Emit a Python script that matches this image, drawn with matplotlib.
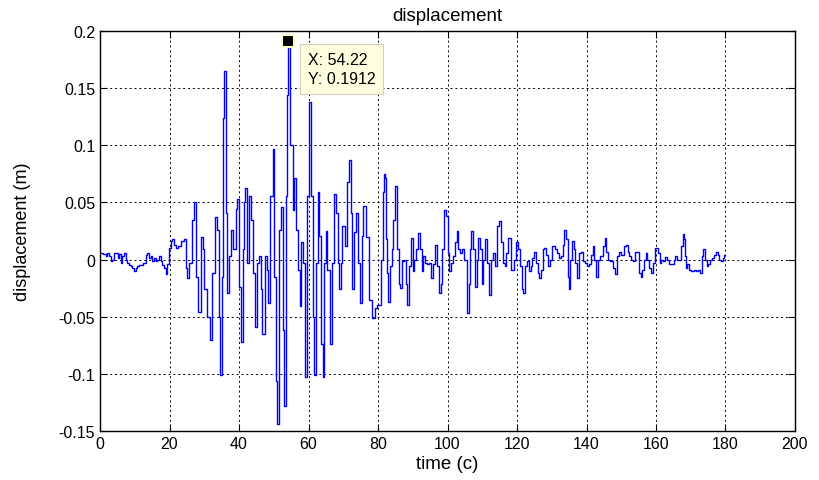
import matplotlib
matplotlib.use('Agg')
import matplotlib.pyplot as plt
import numpy as np

plt.rcParams['font.family'] = ['Liberation Sans', 'DejaVu Sans']

# time (s) and displacement (m)
t = [0.4, 1.4, 1.9, 2.3, 2.8, 3.3, 3.8, 4.4, 4.9, 5.2, 5.7, 6.1, 6.6, 7.1, 7.6, 8.1,
     8.6, 9.0, 9.5, 10.0, 10.5, 11.0, 11.4, 11.9, 12.6, 13.1, 13.5, 13.8, 14.3, 14.8,
     15.3, 15.8, 16.3, 16.7, 17.2, 17.7, 18.1, 18.6, 19.1, 19.6, 20.1, 20.5, 21.0,
     21.5, 22.0, 22.9, 23.9, 24.5, 24.8, 25.1,
     25.9, 26.9, 27.3, 27.8, 28.6, 29.3, 29.7, 30.2, 31.2, 32.1, 32.6, 33.4, 33.9,
     34.3, 34.7, 35.3, 35.5, 35.9, 36.4, 36.9, 37.4, 37.9, 38.4, 38.8, 39.3, 39.8,
     40.3, 40.8, 41.2, 41.7, 42.0, 42.7, 43.2, 43.6, 44.3, 44.9, 45.6, 46.0, 46.5,
     47.0, 47.8, 48.1, 48.7,
     49.4, 49.9, 50.4, 50.8, 51.3, 51.8, 52.3, 52.8, 53.2, 53.7, 54.0, 54.22, 55.2,
     55.6, 56.1, 56.6, 57.4, 57.7, 58.2, 58.5, 59.2, 60.0, 60.4, 60.9, 61.4, 61.9,
     62.4, 62.8, 63.3, 63.8, 64.3, 64.8, 65.2, 65.7, 66.4, 67.0, 67.6, 68.1, 68.6,
     69.1, 69.5, 70.0, 70.8, 71.4, 71.9, 72.4, 72.9, 73.4, 74.0, 74.6, 75.0, 75.6,
     75.9, 77.0, 78.0, 78.8, 79.3, 80.4,
     81.1, 81.5, 81.8, 82.3, 82.5, 82.8, 83.2, 83.6, 84.2, 84.6, 85.2, 85.7, 86.1,
     86.6, 87.3, 87.8, 88.2, 88.7, 89.2, 89.7, 90.2, 90.6, 91.4, 91.8, 92.3, 92.8,
     93.3, 93.8, 94.5, 95.0, 95.4, 96.1, 96.7, 97.4, 97.8, 98.3, 98.8, 99.3, 99.8,
     100.2, 100.7, 101.2, 101.9, 102.4, 102.9, 103.4, 104.0, 104.5, 105.2, 105.8,
     106.3, 106.7, 107.1, 107.6, 108.1, 108.6, 109.2, 109.6, 110.1, 110.6, 111.1,
     111.7, 112.2, 112.7, 113.2, 113.9, 114.6, 115.1, 115.8, 116.3, 116.7, 117.2,
     117.8,
     118.9, 119.4, 120.1, 120.7, 121.1, 121.6, 122.0, 122.6, 123.3, 123.7, 124.2,
     124.7, 125.2, 125.7, 126.1, 126.6, 127.2, 127.6, 128.2, 128.7, 129.3, 129.9,
     130.5, 131.1, 131.9, 132.4, 132.9, 133.3, 133.8, 134.3, 134.8, 135.1, 135.6,
     136.1, 136.5, 137.0, 137.5, 138.1, 138.6, 139.1, 139.9, 140.3, 141.0, 141.5,
     142.0, 142.4, 143.1, 143.7, 144.3, 145.0, 145.5, 146.0, 146.6, 147.2, 147.9,
     148.5, 149.2, 149.6, 150.4, 151.1, 151.6, 152.0, 152.5, 153.0, 153.7, 154.2,
     154.9, 155.4, 155.9, 156.3, 156.8, 157.3, 157.8, 158.3, 159.0, 159.5, 160.2,
     160.9, 161.3, 161.8, 162.3, 162.9, 163.4, 164.0, 164.8, 165.3, 165.7, 166.2,
     166.9, 167.4, 167.9, 168.2, 168.5, 168.8, 169.3, 169.8, 170.6, 171.2, 171.7,
     172.5, 172.9, 173.4, 173.9, 174.4, 174.9, 175.3, 175.8, 176.3, 177.0, 177.5,
     178.0, 178.4, 178.9, 179.4, 179.9]

disp = [0.006, 0.0045, 0.003, 0.006, 0.003, -0.001, 0.0, 0.006, 0.006, 0.0015,
        0.0045, -0.003, 0.003, 0.006, 0.0, -0.003, -0.0045, -0.006, -0.007, -0.010,
        -0.007, -0.006, -0.005, -0.0045, -0.003, -0.003, 0.004, 0.006, 0.0015, 0.003,
        -0.0015, 0.001, -0.0015, 0.0, 0.003, -0.0015, -0.0045, -0.007, -0.013, -0.004,
        0.010, 0.016, 0.018, 0.013, 0.010, 0.012, 0.016, 0.018, -0.007, -0.016,
        -0.003, 0.035, 0.050, -0.015, -0.046, 0.020, 0.009, -0.026, -0.050, -0.070,
        -0.012, 0.037, 0.026, -0.050, -0.101, -0.015, 0.124, 0.165, 0.041, -0.029,
        0.003, 0.026, 0.009, 0.009, 0.044, 0.053, -0.024, -0.072, 0.009, 0.050, 0.063,
        -0.003, 0.056, 0.035, -0.012, -0.059, -0.003, 0.003, -0.026, -0.065, 0.003,
        -0.009, -0.038,
        0.056, 0.097, -0.015, -0.106, -0.144, 0.026, 0.046, -0.062, -0.128, 0.056,
        0.144, 0.1912, 0.100, 0.043, 0.071, 0.026, -0.009, -0.041, 0.015, -0.003,
        -0.103, 0.056, 0.138, 0.056, -0.050, -0.101, -0.003, 0.059, 0.021, -0.074,
        -0.103, -0.003, 0.025, -0.009, -0.074, -0.003, 0.057, 0.041, -0.003, -0.026,
        -0.003, 0.029, 0.012, 0.068, 0.087, 0.041, -0.026, 0.024, 0.041, -0.003,
        -0.038, 0.021, 0.047, 0.020, -0.035, -0.051, -0.042, -0.040,
        0.0, 0.059, 0.075, 0.071, 0.018, -0.012, -0.037, -0.006, 0.009, 0.035, 0.064,
        0.009, -0.021, -0.025, -0.001, 0.0, -0.021, -0.040, -0.006, 0.019, -0.010,
        0.0, 0.009, 0.023, 0.009, -0.010, 0.003, -0.003, -0.004, -0.003, -0.016,
        -0.004, 0.013, -0.006, -0.029, -0.021, 0.009, 0.043, 0.038, 0.006, -0.010,
        -0.003, 0.003, 0.015, 0.025, 0.009, 0.006, 0.009, 0.0, -0.047, -0.021, 0.009,
        0.025, 0.009, -0.024, 0.0, 0.019, 0.009, -0.021, 0.0, 0.018, -0.003, -0.031,
        0.0, 0.006, -0.006, 0.029, 0.034, 0.015, -0.003, -0.006, 0.006, 0.019,
        -0.009, 0.0, 0.015, 0.009, -0.006, -0.026, -0.029, -0.006, -0.001, -0.010,
        -0.006, 0.001, 0.007, -0.003, -0.012, -0.016, -0.009, 0.009, 0.010, 0.004,
        -0.006, 0.0, 0.012, 0.009, 0.006, 0.001, 0.003, 0.013, 0.026, 0.018, -0.015,
        -0.026, 0.0, 0.016, 0.009, -0.003, -0.016, 0.006, 0.007, -0.001, -0.003,
        -0.006, -0.004, 0.004, 0.012, 0.0, -0.015, 0.0, 0.003, 0.012, 0.019, 0.007,
        0.0, -0.001, -0.007, -0.013, 0.003, 0.007, 0.004, 0.012, 0.013, 0.007, 0.003,
        0.0, -0.001, 0.007, 0.007, -0.012, -0.015, -0.009, 0.0, 0.006, 0.0, -0.007,
        -0.012, -0.003, 0.010, 0.006, -0.003, 0.0, -0.001, 0.002, 0.0, -0.004, -0.004,
        0.0, 0.003, 0.0, 0.0, 0.012, 0.022, 0.018, 0.003, -0.007, -0.004, -0.009,
        -0.010, -0.009, -0.010, -0.009, -0.012, 0.003, 0.009, 0.0, -0.006, -0.004,
        0.0, 0.001, 0.004, 0.007, 0.004, 0.0, -0.001, 0.001, 0.004]

tip_x, tip_y = 54.22, 0.1912

fig = plt.figure(figsize=(8.2, 4.81), dpi=100)
ax = fig.add_axes([0.122, 0.102, 0.8475, 0.8315])

ax.plot(t, disp, color='#0000ff', lw=1.0, drawstyle='steps-mid')

# datatip
ax.plot([tip_x], [tip_y], marker='s', ms=9, mfc='black', mec='#ffffcc', mew=1.5,
        linestyle='none', clip_on=False, zorder=5)
ax.text(59.8, 0.1815, 'X: 54.22\nY: 0.1912', fontsize=11.5, va='top', ha='left',
        linespacing=1.3, zorder=6,
        bbox=dict(boxstyle='square,pad=0.5', fc='#ffffe0', ec='#d0d0bc', lw=0.8))

ax.set_xlim(0, 200)
ax.set_ylim(-0.15, 0.2)
ax.set_xticks(np.arange(0, 201, 20))
ax.set_yticks([-0.15, -0.1, -0.05, 0, 0.05, 0.1, 0.15, 0.2])
ax.set_yticklabels(['-0.15', '-0.1', '-0.05', '0', '0.05', '0.1', '0.15', '0.2'])
ax.grid(True, color='black', linestyle=(0, (2, 3)), lw=0.7)
ax.tick_params(direction='in', top=True, right=True, labelsize=11.5, length=5)
for s in ax.spines.values():
    s.set_linewidth(1.0)

ax.set_title('displacement', fontsize=13.5, pad=8)
ax.set_xlabel('time (c)', fontsize=13.5, labelpad=3)
ax.set_ylabel('displacement (m)', fontsize=13, labelpad=20)

fig.savefig('out.png', dpi=100)
